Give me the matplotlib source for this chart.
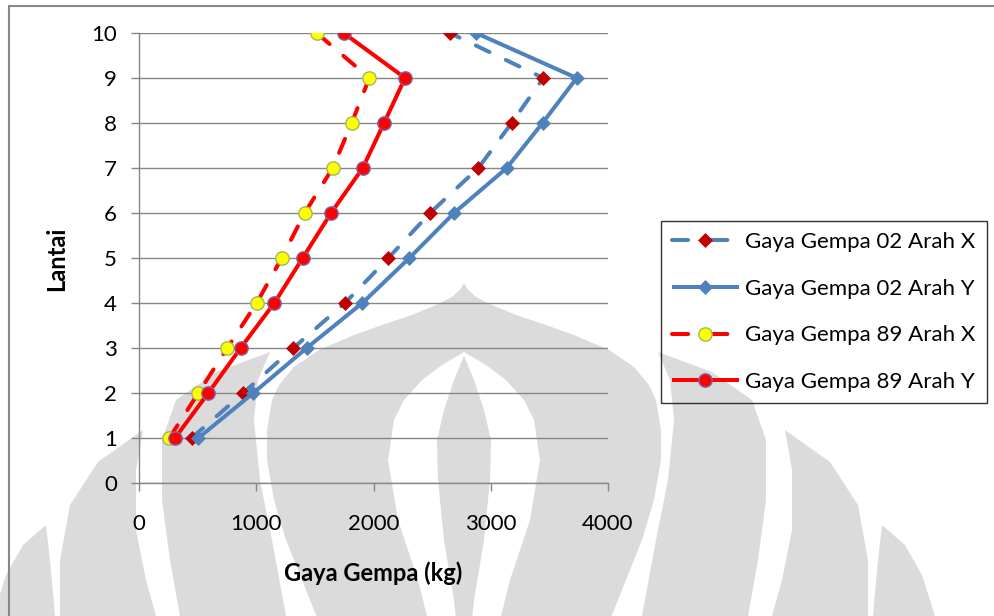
import numpy as np
import matplotlib
matplotlib.use("Agg")
import matplotlib.pyplot as plt
from matplotlib.patches import Polygon, Rectangle
from matplotlib.lines import Line2D

# ---- data: storey shear force (kg) per floor ----
floors = [1, 2, 3, 4, 5, 6, 7, 8, 9, 10]
gempa02_x = [449, 890, 1316, 1757, 2127, 2482, 2894, 3178, 3448, 2652]
gempa02_y = [506, 975, 1430, 1905, 2306, 2687, 3136, 3442, 3733, 2874]
gempa89_x = [259, 506, 753, 1004, 1217, 1413, 1652, 1814, 1964, 1516]
gempa89_y = [307, 591, 867, 1154, 1396, 1638, 1908, 2090, 2269, 1746]

series_labels = ["Gaya Gempa 02 Arah X", "Gaya Gempa 02 Arah Y",
                 "Gaya Gempa 89 Arah X", "Gaya Gempa 89 Arah Y"]
x_ticks = [0, 1000, 2000, 3000, 4000]
y_ticks = list(range(0, 11))

plt.rcParams['font.family'] = ['Lato', 'DejaVu Sans']

W, H = 995, 616
fig = plt.figure(figsize=(W / 100, H / 100), dpi=100)
fig.patch.set_facecolor('white')

# ---- faint background emblem (pixel coordinates, y downwards) ----
wm = fig.add_axes([0, 0, 1, 1], zorder=0)
wm.set_xlim(0, W)
wm.set_ylim(H, 0)
wm.axis('off')
GRAY = '#dbdbdb'
CX = 464


def dome(cx, ctrl, n=200):
    ys = np.array([c[0] for c in ctrl], float)
    hs = np.array([c[1] for c in ctrl], float)
    yy = np.linspace(ys[0], ys[-1], n)
    hh = np.interp(yy, ys, hs)
    right_side = np.column_stack([cx + hh, yy])
    left_side = np.column_stack([cx - hh, yy])[::-1]
    return np.vstack([right_side, left_side])


def both_sides(pts, color):
    pts = np.asarray(pts, float)
    wm.add_patch(Polygon(pts, closed=True, facecolor=color, edgecolor='none'))
    mir = pts.copy()
    mir[:, 0] = 2 * CX - mir[:, 0]
    wm.add_patch(Polygon(mir, closed=True, facecolor=color, edgecolor='none'))


# side leaves
leaf1 = [(658, 352), (670, 380), (674, 420), (668, 480), (656, 540), (642, 616),
         (748, 616), (758, 560), (766, 500), (766, 440), (752, 400), (712, 372)]
leaf2 = [(785, 430), (792, 470), (792, 530), (782, 580), (772, 616),
         (868, 616), (868, 560), (858, 505), (830, 462)]
leaf3 = [(882, 525), (878, 560), (873, 616), (935, 616), (922, 575), (905, 545)]
for leaf in (leaf1, leaf2, leaf3):
    both_sides(leaf, GRAY)

# central dome, white lens and inner spindle
dome_ctrl = [(283, 0), (290, 4), (297, 12), (305, 28), (315, 52), (325, 82),
             (335, 110), (350, 145), (367, 170), (385, 185), (400, 192),
             (430, 197), (460, 197), (500, 190), (540, 178), (580, 162), (620, 146)]
lens_ctrl = [(352, 0), (365, 22), (380, 42), (400, 60), (420, 70), (460, 76),
             (520, 66), (580, 46), (620, 36)]
spindle_ctrl = [(356, 0), (380, 10), (410, 20), (440, 27), (480, 26), (540, 20),
                (600, 10), (620, 8)]
wm.add_patch(Polygon(dome(CX, dome_ctrl), facecolor=GRAY, edgecolor='none'))
wm.add_patch(Polygon(dome(CX, lens_ctrl), facecolor='white', edgecolor='none'))
wm.add_patch(Polygon(dome(CX, spindle_ctrl), facecolor=GRAY, edgecolor='none'))

# outer chart border
fig.add_artist(Rectangle((9 / W, -0.1), 1.2, (H - 6) / H + 0.1,
                         transform=fig.transFigure, fill=False,
                         edgecolor='#888888', lw=1.5, zorder=0.5))

# ---- main plot ----
left, right, top, bottom = 139, 608, 33, 483
ax = fig.add_axes([left / W, 1 - bottom / H, (right - left) / W, (bottom - top) / H],
                  zorder=1)
ax.patch.set_alpha(0)

BLUE = '#4F81BD'
RED = '#FF0000'
DASH = (0, (3.75, 4.5))
LEG_DASH = (0, (4.0, 5.75))
LW = 2.9

styles = [
    dict(color=BLUE, marker='D', ms=6.8, mfc='#C00000', mec='#C00000', mew=0.5, dashed=True),
    dict(color=BLUE, marker='D', ms=6.8, mfc=BLUE, mec=BLUE, mew=0.5, dashed=False),
    dict(color=RED, marker='o', ms=9.6, mfc='#FFFF00', mec='#9BBB59', mew=1.0, dashed=True),
    dict(color=RED, marker='o', ms=9.6, mfc=RED, mec='#8064A2', mew=1.0, dashed=False),
]
series = [gempa02_x, gempa02_y, gempa89_x, gempa89_y]

handles = []
for i, (vals, st) in enumerate(zip(series, styles)):
    kw = dict(color=st['color'], lw=LW, marker=st['marker'], ms=st['ms'],
              mfc=st['mfc'], mec=st['mec'], mew=st['mew'])
    ls = DASH if st['dashed'] else '-'
    ax.plot(vals, floors, ls=ls, dash_capstyle='round', solid_capstyle='round',
            zorder=3 + i, **kw)
    handles.append(Line2D([], [], ls=LEG_DASH if st['dashed'] else '-',
                          dash_capstyle='round', solid_capstyle='butt',
                          label=series_labels[i], **kw))

ax.set_xlim(0, 4000)
ax.set_ylim(0, 10)
ax.set_xticks(x_ticks)
ax.set_yticks(y_ticks)
ax.yaxis.grid(True, color='#868686', lw=1.0)
ax.set_axisbelow(True)
for s in ('top', 'right'):
    ax.spines[s].set_visible(False)
for s in ('left', 'bottom'):
    ax.spines[s].set_color('#868686')
    ax.spines[s].set_linewidth(1.0)
ax.tick_params(axis='both', direction='out', length=6, width=1.0,
               color='#868686', labelsize=16, labelcolor='black')
ax.tick_params(axis='x', pad=16.5)
ax.tick_params(axis='y', pad=10)

fig.text(373 / W, 1 - 573 / H, 'Gaya Gempa (kg)', ha='center', va='center',
         fontsize=17, fontweight='bold', color='black')
fig.text(57 / W, 1 - 259 / H, 'Lantai', ha='center', va='center', rotation=90,
         fontsize=17, fontweight='bold', color='black')

leg = ax.legend(handles=handles, loc='upper left',
                bbox_to_anchor=(661 / W, 1 - 221 / H),
                bbox_transform=fig.transFigure, fontsize=16, frameon=True,
                fancybox=False, edgecolor='black', facecolor='none',
                handlelength=3.0, handletextpad=0.3, labelspacing=1.2,
                borderpad=0.5, borderaxespad=0)
leg.get_frame().set_linewidth(1.0)
for t in leg.get_texts():
    t.set_color('black')

fig.savefig('out.png', dpi=100, facecolor='white')
